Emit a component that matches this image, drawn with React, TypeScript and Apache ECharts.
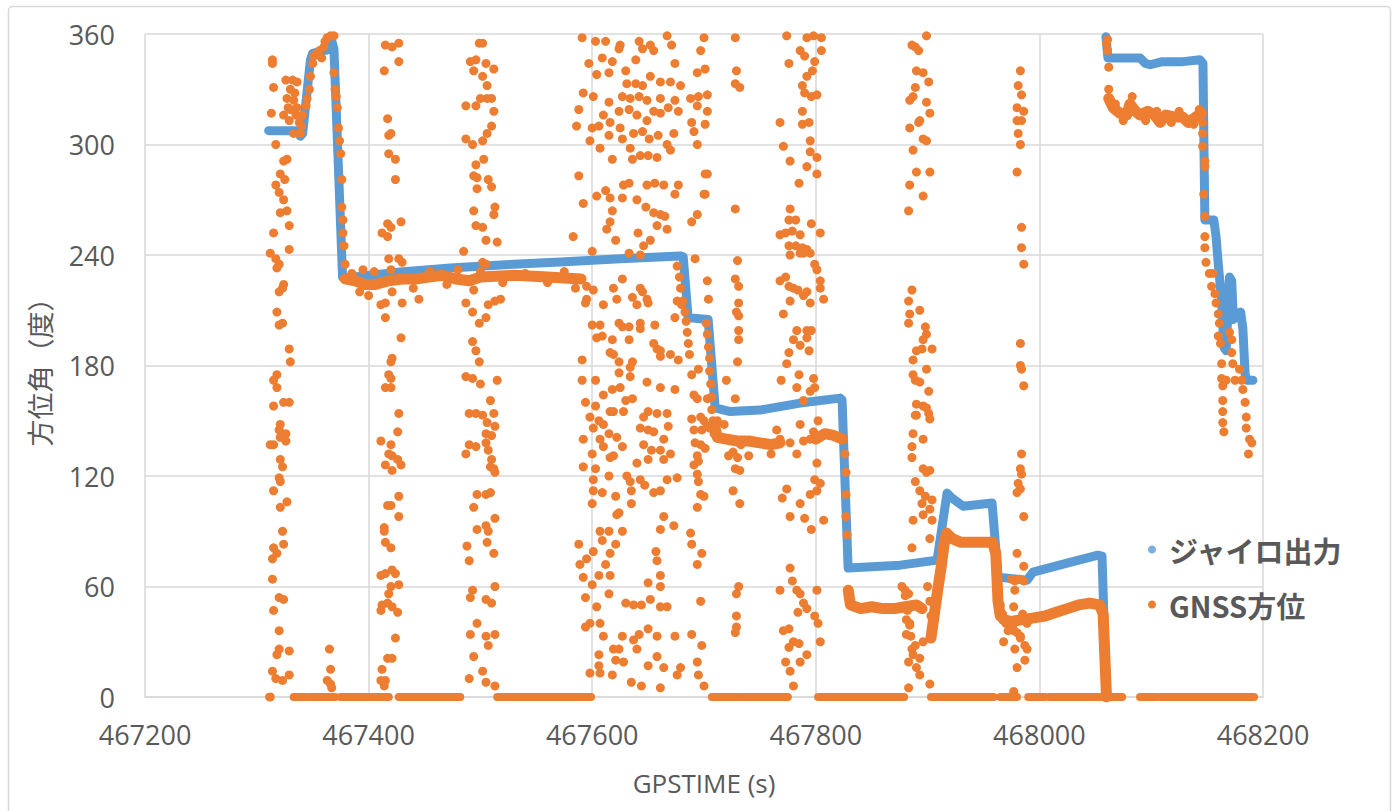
import React, { useEffect, useRef } from 'react';
import * as echarts from 'echarts';

const BLUE = '#5B9BD5';
const ORANGE = '#ED7D31';
const GRID_C = '#D9D9D9';
const TEXT_C = '#595959';

const X_MIN = 467200;
const X_MAX = 468200;
const X_STEP = 200;
const Y_MIN = 0;
const Y_MAX = 360;
const Y_STEP = 60;

const SERIES_NAMES = ['ジャイロ出力', 'GNSS方位'];

// Gyro output (blue), two continuous segments
const gyroSeg1 = [
  [467310.6, 307.5], [467337, 307.5], [467339, 304.5], [467341, 306], [467348, 346], [467350, 349.5],
  [467364, 351.5], [467366, 358.5], [467369, 352], [467376.7, 228], [467379.4, 227.5], [467428.5, 230.8],
  [467473, 233], [467518, 234.6], [467571.5, 236.2], [467625, 237.9], [467678.7, 239.5], [467681.4, 239],
  [467685.8, 206], [467703.7, 205], [467710, 157], [467723.4, 155], [467750, 155.8], [467786, 159.6],
  [467821.7, 162.3], [467823.5, 161.3], [467828.9, 70], [467875.4, 71.6], [467908.5, 74.3], [467917.4, 110.7],
  [467921.9, 108], [467931.7, 103.6], [467957.7, 105.3], [467963, 65.1], [467988.9, 63.4], [467994.3, 67.8],
  [468024.7, 72.7], [468052.4, 77], [468056, 76.5], [468058.6, 25.4], [468060.4, 0],
];
const gyroSeg2 = [
  [468059.5, 358.5], [468061.3, 347], [468090, 347], [468095, 344], [468099, 343.3], [468110, 345],
  [468128.4, 345], [468143.6, 346], [468146.3, 344], [468148, 259], [468156, 259], [468158, 250],
  [468160, 235], [468163, 215], [468165, 190], [468167, 188], [468170, 228], [468172, 226], [468173.5, 205],
  [468176, 208], [468180, 209], [468182, 200], [468184, 175], [468186, 172], [468191, 172],
];

// GNSS heading (orange): dense tracks
const trackB = [
  [467379, 227], [467388, 226], [467397, 224], [467406, 224], [467418, 226], [467430, 227], [467442, 227],
  [467454, 228], [467466, 229], [467478, 227], [467490, 226], [467500, 228], [467530, 229], [467560, 228], [467590, 227],
];
const trackC1 = [[467709, 148], [467712, 141], [467720, 140], [467730, 139], [467740, 139], [467750, 138], [467760, 137], [467768, 138]];
const trackC2 = [[467800, 140], [467808, 143], [467816, 142], [467824, 140]];
const trackD = [[467829, 58], [467831, 50], [467840, 48], [467850, 49], [467860, 48], [467870, 48], [467880, 49], [467890, 50], [467895, 48]];
const trackE = [
  [467903, 32], [467906, 45], [467909, 58], [467912, 70], [467915, 84], [467917, 89], [467922, 86], [467930, 84],
  [467940, 84], [467950, 84], [467958, 84], [467961, 78], [467962, 65], [467963, 52], [467965, 44],
];
const trackF = [
  [467968, 42], [467975, 41], [467985, 42], [467995, 43], [468005, 44], [468015, 46], [468025, 48], [468035, 50],
  [468045, 51], [468054, 50], [468057, 45], [468058, 30], [468059, 15], [468060, 0],
];
const trackG = [
  [468062, 325], [468066, 320], [468072, 317], [468078, 316], [468081, 322], [468086, 318], [468090, 316],
  [468097, 318], [468103, 316], [468108, 312], [468113, 316], [468120, 315], [468128, 315], [468133, 312],
  [468140, 315], [468145, 317],
];

// GNSS heading reported as 0: runs [start, end]
const zeroRuns = [
  [467311, 467312], [467333, 467345], [467348, 467370], [467375, 467418], [467427, 467482], [467515, 467599],
  [467707, 467730], [467733, 467775], [467802, 467879], [467903, 467959], [467965, 467980], [467990, 468005],
  [468009, 468074], [468090, 468105], [468108, 468192],
];

// GNSS scattered points
const gnssBandA = [
  [467314, 346], [467314, 344], [467315, 331], [467313, 317], [467317, 300], [467327, 292], [467324, 291], [467321, 284],
  [467325, 281], [467317, 278], [467320, 274], [467324, 270], [467321, 263], [467327, 264], [467329, 256], [467315, 252],
  [467312, 241], [467317, 238], [467320, 235], [467318, 233], [467329, 243], [467324, 224], [467323, 222], [467320, 220],
  [467318, 209], [467320, 202], [467323, 203], [467329, 189], [467330, 182], [467318, 175], [467315, 172], [467318, 168],
  [467329, 160], [467324, 160], [467315, 158], [467321, 148], [467320, 145], [467326, 143], [467321, 141], [467326, 139],
  [467315, 137], [467312, 137], [467321, 129], [467323, 125], [467320, 119], [467321, 117], [467315, 112], [467321, 103],
  [467327, 106], [467323, 90], [467324, 83], [467315, 81], [467318, 78], [467314, 75], [467314, 64], [467320, 54],
  [467324, 53], [467315, 47], [467320, 36], [467320, 26], [467329, 25], [467318, 23], [467314, 14], [467317, 10],
  [467323, 9], [467329, 12], [467312, 0],
];
const gnssStart = [
  [467326, 335], [467332, 335], [467336, 334], [467327, 325], [467333, 324], [467330, 319], [467324, 316], [467335, 316],
  [467338, 312], [467329, 313], [467333, 306], [467339, 306], [467336, 320], [467341, 316], [467344, 321], [467347, 330],
  [467348, 337], [467350, 344], [467351, 348], [467356, 351], [467360, 353], [467363, 358], [467366, 359], [467369, 359],
  [467358, 347], [467369, 339], [467370, 330], [467372, 320], [467373, 309], [467375, 295], [467376, 281], [467376, 266],
  [467377, 259], [467378, 245], [467379, 235], [467365, 26], [467366, 15], [467363, 9], [467366, 7], [467367, 5],
  [467330, 330], [467328, 320], [467334, 328], [467340, 310], [467345, 325], [467353, 349], [467361, 356], [467371, 326],
  [467374, 302], [467377, 252],
];
const gnssBandB = [
  [467415, 354], [467421, 353], [467427, 355], [467414, 340], [467427, 345], [467417, 314], [467418, 305], [467420, 306],
  [467418, 295], [467424, 292], [467424, 281], [467412, 252], [467417, 257], [467420, 255], [467429, 258], [467417, 250],
  [467418, 238], [467427, 238], [467430, 236], [467411, 213], [467415, 206], [467421, 220], [467430, 214], [467429, 195],
  [467420, 182], [467421, 184], [467418, 175], [467420, 173], [467415, 168], [467420, 168], [467427, 154], [467426, 144],
  [467411, 139], [467420, 137], [467418, 132], [467421, 131], [467426, 129], [467429, 126], [467415, 126], [467421, 123],
  [467427, 109], [467420, 104], [467417, 104], [467427, 98], [467414, 92], [467414, 90], [467415, 84], [467420, 81],
  [467411, 66], [467415, 67], [467421, 69], [467424, 67], [467427, 61], [467420, 60], [467418, 56], [467412, 50],
  [467417, 51], [467421, 49], [467426, 46], [467411, 47], [467424, 32], [467417, 21], [467421, 21], [467412, 15],
  [467411, 9], [467415, 9], [467414, 6],
];
const gnssBandC = [
  [467499, 355], [467502, 355], [467496, 346], [467491, 345], [467494, 340], [467505, 344], [467512, 341], [467502, 337],
  [467506, 332], [467500, 325], [467506, 325], [467510, 325], [467496, 321], [467512, 318], [467487, 321], [467510, 310],
  [467506, 306], [467487, 303], [467493, 300], [467502, 302], [467503, 292], [467496, 289], [467494, 283], [467497, 282],
  [467507, 281], [467510, 277], [467497, 276], [467513, 266], [467512, 262], [467494, 264], [467496, 256], [467502, 255],
  [467505, 248], [467515, 247], [467485, 242], [467502, 236], [467505, 235], [467494, 221], [467487, 214], [467493, 209],
  [467507, 213], [467513, 215], [467518, 216], [467499, 203], [467505, 206], [467493, 193], [467496, 188], [467499, 182],
  [467487, 174], [467493, 173], [467515, 172], [467500, 170], [467509, 161], [467490, 154], [467496, 154], [467502, 153],
  [467512, 154], [467506, 149], [467513, 147], [467510, 142], [467505, 143], [467490, 137], [467496, 136], [467505, 138],
  [467507, 134], [467487, 132], [467510, 129], [467509, 125], [467512, 124], [467513, 122], [467497, 110], [467505, 110],
  [467509, 111], [467494, 103], [467513, 97], [467505, 93], [467497, 91], [467507, 90], [467506, 84], [467512, 78],
  [467488, 82], [467490, 74], [467493, 58], [467491, 54], [467505, 53], [467510, 51], [467513, 60], [467497, 40],
  [467491, 34], [467494, 22], [467505, 33], [467513, 34], [467507, 28], [467502, 14], [467490, 10], [467505, 8], [467513, 6],
];
const gnssTrackNoise = [
  [467385, 230], [467392, 220], [467400, 218], [467405, 231], [467420, 232], [467440, 222], [467455, 231], [467470, 224],
  [467480, 232], [467500, 231], [467520, 225], [467540, 230], [467560, 225], [467575, 231], [467585, 222], [467445, 216],
  [467415, 214], [467395, 232], [467700, 150], [467705, 146], [467712, 150], [467718, 148], [467722, 131], [467726, 133],
  [467730, 130], [467733, 137], [467740, 131], [467760, 132], [467765, 145], [467768, 140], [467826, 132], [467827, 122],
  [467827, 110], [467827, 98], [467828, 88], [468068, 322], [468075, 313], [468083, 326], [468095, 313], [468105, 318],
  [468118, 312], [468125, 318], [468138, 311], [468143, 319], [468060, 355],
];
const gnssDense = [
  [467591, 358], [467603, 356], [467612, 356], [467625, 354], [467642, 356], [467652, 354], [467667, 359], [467671, 354],
  [467700, 358], [467624, 352], [467645, 352], [467655, 351], [467609, 347], [467618, 345], [467597, 344], [467639, 346],
  [467697, 351], [467674, 344], [467630, 340], [467604, 338], [467615, 339], [467652, 337], [467661, 334], [467694, 339],
  [467701, 341], [467631, 333], [467639, 333], [467645, 332], [467670, 334], [467679, 332], [467703, 327], [467592, 328],
  [467601, 326], [467627, 326], [467634, 325], [467642, 326], [467649, 324], [467661, 325], [467674, 324], [467688, 325],
  [467695, 326], [467588, 319], [467615, 323], [467624, 318], [467633, 319], [467655, 318], [467668, 320], [467677, 318],
  [467694, 321], [467703, 318], [467610, 316], [467640, 316], [467649, 313], [467661, 317], [467689, 312], [467701, 311],
  [467586, 310], [467600, 309], [467606, 310], [467616, 312], [467625, 309], [467637, 306], [467645, 307], [467659, 305],
  [467673, 306], [467691, 307], [467598, 302], [467615, 305], [467627, 303], [467651, 303], [467667, 300], [467694, 300],
  [467607, 298], [467634, 298], [467643, 294], [467650, 294], [467658, 293], [467670, 297], [467618, 292], [467636, 292],
  [467588, 283], [467703, 284], [467701, 273], [467633, 279], [467628, 278], [467649, 278], [467656, 279], [467664, 278],
  [467677, 278], [467674, 273], [467604, 272], [467612, 275], [467616, 271], [467627, 271], [467640, 270], [467592, 268],
  [467648, 266], [467618, 264], [467655, 263], [467661, 262], [467665, 261], [467694, 262], [467689, 258], [467616, 258],
  [467658, 256], [467667, 254], [467613, 254], [467641, 252], [467583, 250], [467621, 248], [467652, 248], [467646, 245],
  [467600, 242], [467643, 240], [467633, 241], [467692, 238], [467595, 223],
  [467601, 221], [467595, 216], [467594, 214], [467610, 213], [467619, 222], [467627, 227], [467622, 216], [467636, 217],
  [467643, 222], [467645, 220], [467640, 213], [467649, 216], [467650, 214], [467600, 202], [467607, 202], [467624, 203],
  [467627, 201], [467633, 201], [467643, 203], [467643, 200], [467656, 202], [467604, 195], [467609, 196], [467618, 194],
  [467633, 194], [467655, 192], [467658, 189], [467661, 188], [467619, 186], [467624, 182], [467636, 182], [467674, 206],
  [467676, 215], [467680, 213], [467591, 183], [467616, 187], [467670, 186], [467677, 183], [467661, 185],
  [467624, 176], [467634, 179], [467634, 174], [467649, 171], [467661, 168], [467674, 167], [467591, 172], [467603, 172],
  [467618, 167], [467610, 164], [467625, 168], [467630, 161], [467636, 162], [467594, 160], [467603, 158], [467616, 155],
  [467619, 155], [467628, 155], [467650, 155], [467658, 154], [467598, 152], [467646, 152], [467667, 154], [467606, 150],
  [467610, 148], [467643, 146], [467650, 145], [467655, 144], [467668, 147], [467601, 146], [467615, 143], [467607, 140],
  [467664, 140], [467592, 140], [467622, 141], [467610, 136], [467627, 136], [467646, 137], [467653, 134], [467661, 134],
  [467600, 132], [467619, 131], [467670, 132], [467650, 129], [467664, 129], [467640, 127], [467616, 130], [467592, 125],
  [467603, 124], [467615, 120], [467631, 120], [467643, 118], [467667, 118], [467676, 119], [467601, 118], [467634, 117],
  [467647, 115], [467661, 112], [467655, 111], [467601, 112], [467609, 111], [467621, 109], [467635, 112], [467600, 105],
  [467635, 105], [467624, 100], [467622, 99],
  [467664, 98], [467661, 91], [467673, 93], [467607, 90], [467615, 90], [467627, 90], [467609, 85], [467621, 83],
  [467588, 83], [467601, 79], [467616, 78], [467595, 75], [467589, 72], [467612, 72], [467657, 79], [467658, 74],
  [467592, 65], [467606, 66], [467616, 66], [467600, 61], [467661, 66], [467650, 62], [467661, 60], [467615, 56],
  [467594, 54], [467604, 49], [467630, 51], [467637, 50], [467644, 50], [467652, 53], [467661, 49], [467667, 49],
  [467594, 38], [467598, 40], [467607, 40], [467650, 37], [467619, 26], [467627, 33], [467637, 31], [467642, 34],
  [467658, 33], [467674, 33], [467689, 34], [467610, 33], [467606, 23], [467624, 26], [467640, 26], [467658, 22],
  [467698, 28], [467606, 17], [467621, 20], [467628, 19], [467650, 17], [467664, 16], [467679, 16], [467694, 19],
  [467618, 12], [467635, 8], [467644, 6], [467661, 5], [467676, 12], [467695, 12], [467700, 6], [467598, 13], [467607, 13],
  [467694, 131], [467691, 126], [467694, 121], [467695, 117], [467697, 110], [467700, 109], [467694, 103], [467688, 89],
  [467689, 83], [467698, 78], [467694, 72], [467697, 52], [467692, 138], [467697, 137], [467701, 135], [467695, 128],
  [467691, 164], [467694, 162], [467689, 175], [467695, 178], [467703, 162], [467689, 151], [467697, 152], [467703, 147],
  [467691, 145], [467698, 145], [467703, 226], [467704, 216], [467701, 284], [467700, 273],
  [467676, 234], [467678, 228], [467679, 222], [467681, 215], [467683, 209], [467684, 204], [467685, 198], [467686, 192],
  [467687, 186], [467702, 203], [467703, 197], [467704, 190], [467705, 184], [467705, 177], [467706, 170], [467707, 163],
  [467707, 156], [467708, 150], [467709, 143],
];
const gnssBandD = [
  [467728, 358], [467729, 340], [467728, 333], [467732, 331], [467728, 265], [467730, 237], [467728, 227], [467731, 223],
  [467731, 214], [467729, 209], [467731, 207], [467731, 199], [467731, 194], [467730, 182], [467728, 162], [467728, 124],
  [467732, 123], [467726, 112], [467732, 105], [467731, 60], [467729, 56], [467729, 44], [467729, 38], [467728, 35], [467720, 172],
];
const gnssBandE = [
  [467774, 359], [467776, 344], [467786, 351], [467790, 348], [467792, 358], [467798, 359], [467805, 358], [467805, 351],
  [467799, 345], [467797, 340], [467792, 337], [467788, 332], [467790, 328], [467796, 326], [467801, 327], [467788, 318],
  [467794, 312], [467788, 311], [467768, 312], [467771, 299], [467777, 291], [467795, 302], [467795, 296], [467792, 288],
  [467801, 293], [467801, 284], [467785, 279], [467777, 265], [467776, 259], [467782, 259], [467796, 257], [467768, 251],
  [467773, 252], [467786, 251], [467779, 253], [467776, 245], [467782, 245], [467788, 244], [467792, 243], [467789, 241],
  [467795, 241], [467786, 241], [467777, 240], [467804, 252], [467799, 235], [467801, 232], [467768, 226], [467773, 228],
  [467776, 223], [467780, 222], [467784, 221], [467789, 218], [467792, 220], [467795, 214], [467804, 226], [467804, 222],
  [467807, 216], [467777, 215], [467771, 208], [467783, 199], [467792, 199], [467796, 199], [467780, 194], [467792, 195],
  [467786, 191], [467794, 188], [467776, 187], [467774, 181], [467769, 172], [467785, 175], [467783, 168], [467798, 173],
  [467799, 168], [467789, 161], [467795, 166], [467786, 148], [467789, 139], [467795, 140], [467798, 144], [467777, 138],
  [467783, 132], [467802, 150], [467801, 127], [467799, 118], [467786, 105], [467790, 97], [467796, 91], [467777, 98],
  [467770, 108], [467774, 113], [467807, 96], [467795, 110], [467801, 112], [467804, 116], [467768, 58], [467777, 70],
  [467779, 63], [467783, 58], [467786, 56], [467789, 51], [467784, 46], [467792, 48], [467799, 44], [467802, 40],
  [467771, 36], [467776, 37], [467780, 30], [467776, 27], [467785, 29], [467786, 19], [467792, 23], [467773, 19],
  [467777, 14], [467780, 6], [467801, 58], [467804, 30],
];
const gnssBandF = [
  [467886, 354], [467889, 353], [467892, 351], [467899, 359], [467890, 340], [467896, 339], [467901, 334], [467889, 331],
  [467887, 326], [467884, 324], [467899, 323], [467902, 317], [467893, 313], [467892, 312], [467884, 309], [467896, 303],
  [467899, 302], [467887, 297], [467890, 285], [467902, 285], [467884, 278], [467896, 272], [467883, 264], [467886, 221],
  [467883, 215], [467884, 208], [467883, 203], [467893, 210], [467898, 201], [467896, 194], [467899, 197], [467904, 189],
  [467895, 189], [467890, 188], [467887, 183], [467899, 178], [467887, 175], [467889, 172], [467893, 171], [467901, 166],
  [467890, 159], [467896, 158], [467899, 157], [467901, 154], [467902, 151], [467890, 153], [467889, 153], [467887, 143],
  [467896, 140], [467886, 136], [467886, 130], [467896, 124], [467899, 122], [467902, 123], [467889, 117], [467893, 112],
  [467898, 109], [467904, 107], [467895, 105], [467896, 99], [467902, 102], [467904, 96], [467887, 96], [467902, 86],
  [467886, 81], [467880, 58], [467883, 56], [467878, 49], [467881, 42], [467884, 39], [467881, 34], [467886, 26],
  [467887, 23], [467883, 19], [467890, 16], [467893, 12], [467883, 5], [467902, 7], [467893, 21], [467896, 30],
  [467889, 28], [467877, 60], [467880, 55], [467882, 47], [467884, 40], [467885, 33], [467900, 60], [467902, 52],
  [467903, 44], [467904, 38],
];
const gnssBandG = [
  [467983, 340], [467981, 332], [467984, 327], [467980, 320], [467986, 318], [467980, 313], [467984, 313], [467981, 306],
  [467983, 300], [467980, 285], [467984, 255], [467984, 244], [467986, 235], [467983, 192], [467983, 180], [467984, 178],
  [467986, 169], [467984, 132], [467983, 124], [467984, 121], [467981, 116], [467983, 113], [467980, 111], [467986, 98],
  [467980, 78], [467986, 71], [467975, 64], [467978, 63], [467986, 63], [467978, 58], [467977, 49], [467980, 42],
  [467977, 36], [467983, 33], [467978, 26], [467980, 16], [467989, 26], [467987, 20], [467977, 3], [467963, 58],
  [467965, 50], [467967, 45], [467970, 40], [467972, 36], [467968, 30], [467976, 38], [467980, 35], [467983, 32],
  [467987, 28], [467985, 45], [467989, 40], [467982, 64],
];
const gnssEnd = [
  [468061, 357], [468061, 351], [468062, 342], [468062, 330], [468063, 323], [468146, 312], [468146, 306], [468146, 299],
  [468148, 291], [468148, 288], [468147, 273], [468148, 261], [468148, 250], [468148, 244], [468149, 236], [468152, 230],
  [468155, 230], [468154, 223], [468157, 219], [468158, 214], [468160, 208], [468161, 203], [468160, 196], [468162, 192],
  [468163, 181], [468163, 173], [468164, 169], [468164, 161], [468164, 155], [468164, 149], [468165, 144], [468170, 198],
  [468172, 194], [468172, 187], [468173, 181], [468167, 172], [468175, 172], [468179, 178], [468181, 172], [468182, 167],
  [468184, 160], [468185, 152], [468185, 146], [468188, 140], [468190, 138], [468187, 132],
];

export default function App() {
  const ref = useRef<HTMLDivElement>(null);
  useEffect(() => {
    document.body.style.margin = '0';
    const chart = echarts.init(ref.current as HTMLDivElement, null, { renderer: 'svg' });
    const gnssPoints = [
      ...gnssBandA, ...gnssStart, ...gnssBandB, ...gnssBandC, ...gnssTrackNoise, ...gnssDense,
      ...gnssBandD, ...gnssBandE, ...gnssBandF, ...gnssBandG, ...gnssEnd,
    ];
    const axisFont = 'Open Sans';
    chart.setOption({
      animation: false,
      backgroundColor: '#ffffff',
      textStyle: { fontFamily: axisFont },
      graphic: [
        {
          type: 'rect',
          silent: true,
          z: -10,
          shape: { x: 8.5, y: 6.5, width: 1382, height: 830, r: 4 },
          style: { fill: 'none', stroke: GRID_C, lineWidth: 1.5 },
        },
      ],
      grid: { left: 145, right: 133, top: 34, bottom: 114, containLabel: false },
      legend: {
        orient: 'vertical',
        left: 1143,
        top: 530,
        itemGap: 26,
        itemWidth: 8,
        itemHeight: 8,
        icon: 'circle',
        data: SERIES_NAMES,
        textStyle: {
          fontSize: 29,
          fontWeight: 'bold',
          color: TEXT_C,
          fontFamily: 'Noto Sans CJK JP',
          padding: [0, 0, 0, 8],
        },
      },
      xAxis: {
        type: 'value',
        min: X_MIN,
        max: X_MAX,
        interval: X_STEP,
        name: 'GPSTIME (s)',
        nameLocation: 'middle',
        nameGap: 73,
        nameTextStyle: { fontSize: 26, color: TEXT_C, fontFamily: axisFont },
        axisLine: { show: true, lineStyle: { color: GRID_C, width: 1.5 } },
        axisTick: { show: false },
        axisLabel: {
          fontSize: 27,
          color: TEXT_C,
          margin: 24,
          fontFamily: axisFont,
          formatter: (v: number) => String(v),
        },
        splitLine: { show: true, lineStyle: { color: GRID_C, width: 1.5 } },
      },
      yAxis: {
        type: 'value',
        min: Y_MIN,
        max: Y_MAX,
        interval: Y_STEP,
        name: '方位角（度）',
        nameLocation: 'middle',
        nameGap: 92,
        nameRotate: 90,
        nameTextStyle: { fontSize: 27, color: TEXT_C, fontFamily: 'Noto Sans CJK JP' },
        axisLine: { show: false },
        axisTick: { show: false },
        axisLabel: { fontSize: 27, color: TEXT_C, margin: 30, fontFamily: axisFont },
        splitLine: { show: true, lineStyle: { color: GRID_C, width: 1.5 } },
      },
      series: [
        {
          type: 'scatter',
          name: SERIES_NAMES[0],
          data: [],
          itemStyle: { color: BLUE },
        },
        {
          type: 'lines',
          name: SERIES_NAMES[0],
          coordinateSystem: 'cartesian2d',
          polyline: true,
          silent: true,
          data: [{ coords: gyroSeg1 }, { coords: gyroSeg2 }],
          lineStyle: { color: BLUE, width: 9, opacity: 1, cap: 'round', join: 'round' },
        },
        {
          type: 'scatter',
          name: SERIES_NAMES[1],
          data: gnssPoints,
          symbolSize: 9,
          itemStyle: { color: ORANGE, opacity: 1 },
        },
        {
          type: 'lines',
          name: SERIES_NAMES[1],
          coordinateSystem: 'cartesian2d',
          polyline: true,
          silent: true,
          data: [trackB, trackC1, trackC2, trackD, trackE, trackF, trackG].map((c) => ({ coords: c })),
          lineStyle: { color: ORANGE, width: 11, opacity: 1, cap: 'round', join: 'round' },
        },
        {
          type: 'lines',
          name: SERIES_NAMES[1],
          coordinateSystem: 'cartesian2d',
          polyline: true,
          silent: true,
          data: zeroRuns.map(([a, b]) => ({ coords: [[a, 0], [b, 0]] })),
          lineStyle: { color: ORANGE, width: 8, opacity: 1, cap: 'round', join: 'round' },
        },
      ],
    });
    return () => chart.dispose();
  }, []);
  return <div ref={ref} style={{ width: 1396, height: 811 }} />;
}
